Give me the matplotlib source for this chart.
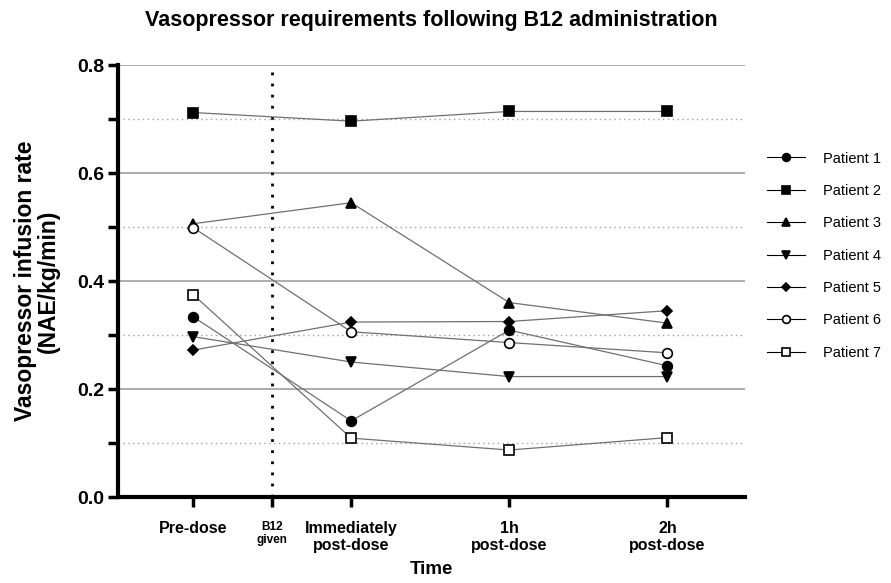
import matplotlib
matplotlib.use('Agg')
import matplotlib.pyplot as plt
from matplotlib.ticker import MultipleLocator

plt.rcParams['font.family'] = ['Liberation Sans', 'DejaVu Sans']

# time points (B12 given sits between pre-dose and immediately post-dose)
time_pos = [0, 1, 2, 3]
b12_pos = 0.5
tick_pos = [0, 0.5, 1, 2, 3]
tick_labels = ['Pre-dose', 'B12\ngiven', 'Immediately\npost-dose', '1h\npost-dose', '2h\npost-dose']

patients = ['Patient 1', 'Patient 2', 'Patient 3', 'Patient 4', 'Patient 5', 'Patient 6', 'Patient 7']
p1 = [0.334, 0.141, 0.309, 0.243]
p2 = [0.712, 0.696, 0.714, 0.714]
p3 = [0.506, 0.545, 0.360, 0.322]
p4 = [0.297, 0.250, 0.223, 0.223]
p5 = [0.272, 0.324, 0.325, 0.345]
p6 = [0.499, 0.306, 0.286, 0.267]
p7 = [0.375, 0.109, 0.087, 0.110]
values = [p1, p2, p3, p4, p5, p6, p7]

markers = ['o', 's', '^', 'v', 'D', 'o', 's']
fills = ['black', 'black', 'black', 'black', 'black', 'white', 'white']
msizes = [7, 7, 7, 7, 5, 7, 7]

fig = plt.figure(figsize=(8.91, 5.83), dpi=100)
ax = fig.add_axes([0.1324, 0.1475, 0.7036, 0.741])

# grid: solid at major, dotted at minor
for y in [0.2, 0.4, 0.6, 0.8]:
    ax.axhline(y, color='#a0a0a0', lw=1.2, zorder=0)
for y in [0.1, 0.3, 0.5, 0.7]:
    ax.axhline(y, color='#a0a0a0', lw=1.0, ls=(0, (1, 2.5)), zorder=0)

ax.axvline(b12_pos, ymin=0, ymax=1, color='black', lw=2, ls=(0, (1, 3)), zorder=1)

for name, v, m, fc, ms in zip(patients, values, markers, fills, msizes):
    ax.plot(time_pos, v, color='#707070', lw=0.9, marker=m, markersize=ms,
            markerfacecolor=fc, markeredgecolor='black', markeredgewidth=1.2,
            label=name, zorder=3)

ax.set_xlim(-0.475, 3.49)
ax.set_ylim(0, 0.8)
ax.yaxis.set_major_locator(MultipleLocator(0.2))
ax.yaxis.set_minor_locator(MultipleLocator(0.1))
ax.set_xticks(tick_pos)
ax.set_xticklabels(tick_labels)
for lab in ax.get_xticklabels():
    lab.set_fontweight('bold')
    lab.set_fontsize(11.5)
ax.get_xticklabels()[1].set_fontsize(8.5)
ax.set_yticklabels([f'{t:.1f}' for t in ax.get_yticks()], fontsize=14, fontweight='bold')

for s in ['top', 'right']:
    ax.spines[s].set_visible(False)
for s in ['left', 'bottom']:
    ax.spines[s].set_linewidth(3)
ax.tick_params(axis='both', which='major', direction='out', length=7, width=2.5, pad=3)
ax.tick_params(axis='y', which='minor', direction='out', length=7, width=2.5)
ax.tick_params(axis='x', pad=10)

ax.set_xlabel('Time', fontsize=13.5, fontweight='bold', labelpad=6)
ax.set_ylabel('Vasopressor infusion rate\n(NAE/kg/min)', fontsize=16.5, fontweight='bold',
              labelpad=12, linespacing=1.0)
ax.set_title('Vasopressor requirements following B12 administration', fontsize=15.5,
             fontweight='bold', pad=28)

leg = ax.legend(loc='upper left', bbox_to_anchor=(1.015, 0.83), frameon=False,
                fontsize=10.5, handlelength=2.6, labelspacing=1.26, markerscale=0.8,
                handletextpad=1.2)
for h in leg.get_lines():
    h.set_color('black')
    h.set_linewidth(0.8)

fig.savefig('out.png', dpi=100)
